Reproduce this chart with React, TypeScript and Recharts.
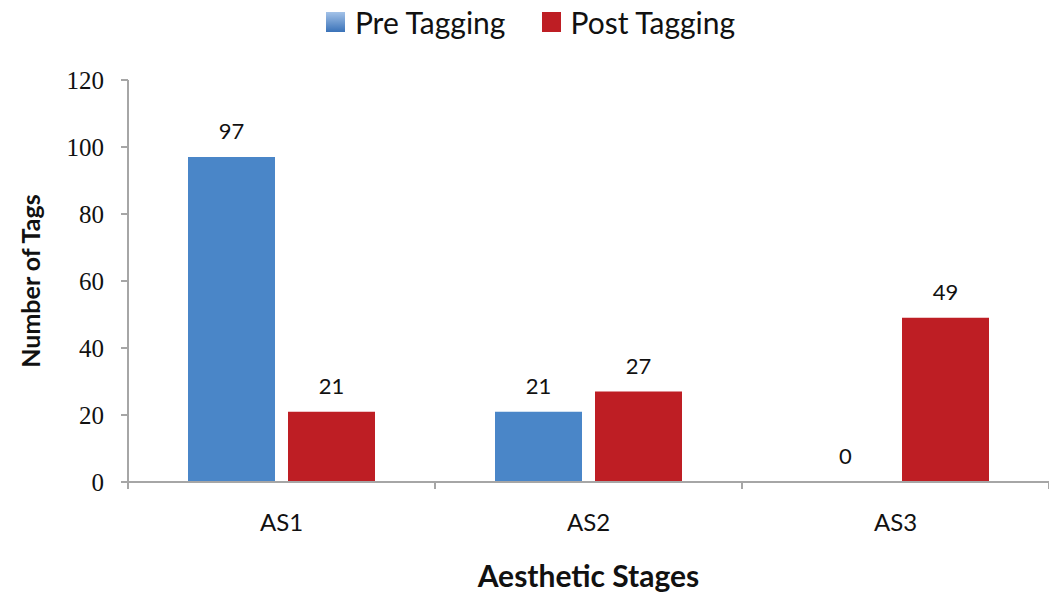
import React from 'react';
import { BarChart, Bar, XAxis, YAxis, Legend, LabelList } from 'recharts';

const stages = ['AS1', 'AS2', 'AS3'];
const preTagging = [97, 21, 0];
const postTagging = [21, 27, 49];
const yTicks = [0, 20, 40, 60, 80, 100, 120];

const data = stages.map((stage, i) => ({
  stage,
  pre: preTagging[i],
  post: postTagging[i],
}));

const BLUE = '#4a86c8';
const RED = '#be1e24';
const AXIS = '#a6a6a6';
const SANS = 'Lato, "Open Sans", sans-serif';

const LegendBox = () => (
  <div
    style={{
      height: 44,
      display: 'flex',
      justifyContent: 'center',
      alignItems: 'flex-start',
      fontFamily: SANS,
      fontSize: 30,
      color: '#111',
      lineHeight: '34px',
      paddingLeft: 12,
    }}
  >
    <span style={{ display: 'flex', alignItems: 'center', marginRight: 37 }}>
      <span
        style={{
          width: 19,
          height: 20,
          marginRight: 10,
          background: 'linear-gradient(#a3c2e8, #3a72b8)',
        }}
      />
      Pre Tagging
    </span>
    <span style={{ display: 'flex', alignItems: 'center' }}>
      <span style={{ width: 19, height: 20, marginRight: 9, background: RED }} />
      Post Tagging
    </span>
  </div>
);

// category label in the middle, Excel-style tick marks on the band edges
const StageTick = (props: any) => {
  const { x, y, payload, index } = props;
  const half = payload.offset || 0;
  const axisY = y - 28;
  return (
    <g>
      <line x1={x - half} x2={x - half} y1={axisY} y2={axisY + 7} stroke={AXIS} strokeWidth={2} />
      {index === stages.length - 1 && (
        <line x1={x + half} x2={x + half} y1={axisY} y2={axisY + 7} stroke={AXIS} strokeWidth={2} />
      )}
      <text x={x} y={y} dy={21} textAnchor="middle" fill="#111" fontSize={24} fontFamily={SANS}>
        {payload.value}
      </text>
    </g>
  );
};

// keeps a zero-height bar around so its value label is still drawn
const zeroSafe = (value: number) => (value === 0 ? 0.01 : 0);

export default function App() {
  return (
    <div style={{ position: 'absolute', left: 0, top: 0, background: '#fff' }}>
      <BarChart
        width={1049}
        height={597}
        data={data}
        margin={{ top: 36, right: 0, left: 0, bottom: 0 }}
        barGap={13}
        barSize={87}
      >
        <Legend verticalAlign="top" wrapperStyle={{ top: 5 }} content={<LegendBox />} />
        <XAxis
          dataKey="stage"
          axisLine={{ stroke: AXIS, strokeWidth: 2 }}
          tickLine={false}
          tickSize={0}
          tickMargin={28}
          tick={<StageTick />}
          height={115}
          label={{
            value: 'Aesthetic Stages',
            position: 'insideBottom',
            offset: 10,
            fill: '#111',
            fontSize: 30,
            fontWeight: 'bold',
            fontFamily: SANS,
          }}
        />
        <YAxis
          domain={[0, 120]}
          ticks={yTicks}
          width={128}
          axisLine={{ stroke: AXIS, strokeWidth: 2 }}
          tickLine={{ stroke: AXIS, strokeWidth: 2 }}
          tickSize={7}
          tickMargin={17}
          tick={{ fill: '#111', fontSize: 25, fontFamily: '"Liberation Serif", serif' }}
          label={{
            value: 'Number of Tags',
            angle: -90,
            position: 'center',
            dx: -33,
            fill: '#111',
            fontSize: 25,
            fontWeight: 'bold',
            fontFamily: SANS,
          }}
        />
        <Bar dataKey="pre" name="Pre Tagging" fill={BLUE} minPointSize={zeroSafe} isAnimationActive={false}>
          <LabelList dataKey="pre" position="top" offset={18} fill="#111" fontSize={22} fontFamily={SANS} />
        </Bar>
        <Bar dataKey="post" name="Post Tagging" fill={RED} isAnimationActive={false}>
          <LabelList dataKey="post" position="top" offset={18} fill="#111" fontSize={22} fontFamily={SANS} />
        </Bar>
      </BarChart>
    </div>
  );
}
